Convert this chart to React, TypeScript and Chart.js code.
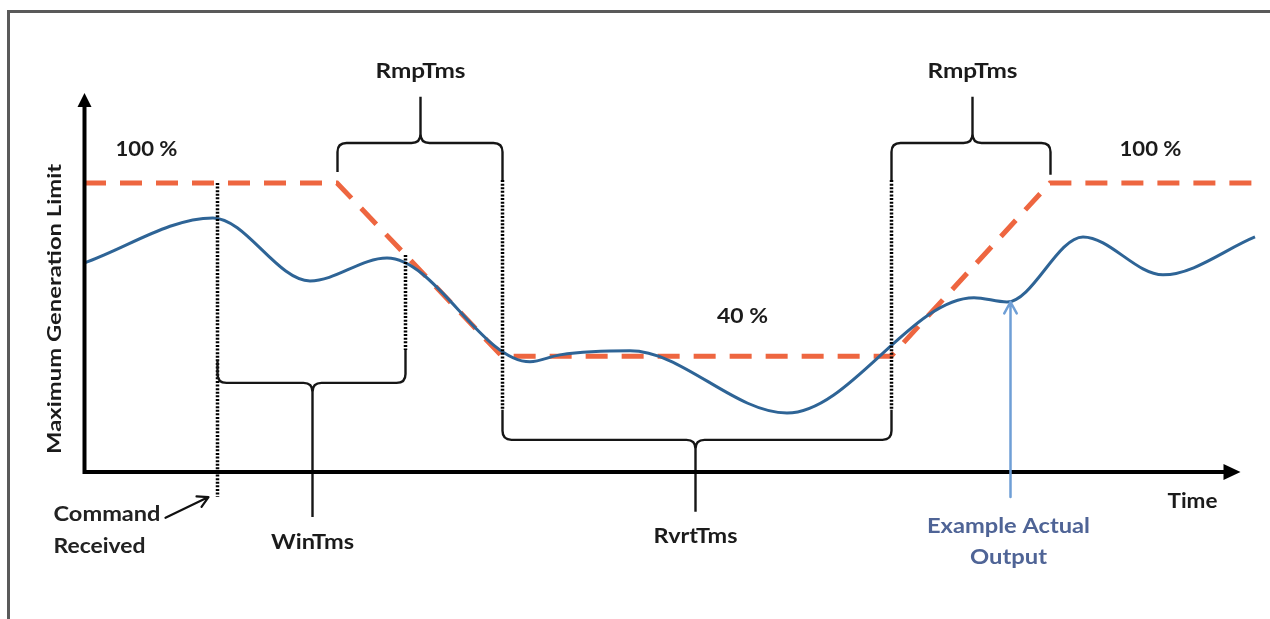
import React, { useEffect, useRef } from "react";
import { Chart, registerables } from "chart.js";

Chart.register(...registerables);

// ---- Data (time units along x, percent of limit along y) ----
const outputT = [0, 12.9, 22.6, 30.3, 44.6, 47.6, 54.6, 70.3, 89.0, 92.3, 99.9, 107.9, 117.1];
const outputV = [72.3, 87.9, 66.1, 74.0, 38.1, 40.5, 41.9, 20.4, 60.3, 58.8, 81.3, 68.2, 81.3];

const limitT = [0, 25.3, 41.8, 80.7, 96.6, 117.1];
const limitV = [100, 100, 40, 40, 100, 100];

// brackets
const bracketLabels = ["RmpTms", "RmpTms", "WinTms", "RvrtTms"];
const bracketStart = [25.3, 80.7, 13.3, 41.8];
const bracketEnd = [41.8, 96.6, 32.1, 80.7];
const bracketMid = [33.6, 88.8, 22.8, 61.1];
const bracketLevel = [113.8, 113.8, 30.8, 11.1];
const bracketTip = [129.8, 129.8, -15.6, -13.8];
const bracketFootL = [103.8, 101.0, 38.8, 21.5];
const bracketFootR = [101.0, 102.8, 42.2, 21.5];
const bracketLabelV = [138.4, 138.4, -24.6, -22.5];
const bracketLabelW = [90, 90, 83, 84];

// dotted guides
const guideT = [13.3, 32.1, 41.8, 80.7];
const guideTop = [100, 75.1, 101, 101];
const guideBottom = [-8.7, 42.2, 21.5, 21.5];

// level labels
const levelLabels = ["100 %", "40 %", "100 %"];
const levelLabelT = [6.2, 65.8, 106.6];
const levelLabelV = [111.4, 53.6, 111.4];
const levelLabelW = [62, 51, 62];

// axes extent
const axisTopV = 131.1;
const axisEndT = 115.6;

// annotations
const commandLines = ["Command", "Received"];
const commandLineV = [-14.9, -26.0];
const commandLineW = [107, 92];
const commandLeftT = -3.1;
const commandArrowFrom = [8.1, -15.9];
const commandArrowTo = [12.4, -8.7];

const exampleLines = ["Example Actual", "Output"];
const exampleLineV = [-19.0, -29.8];
const exampleLineW = [163, 77];
const exampleT = 92.4;
const exampleArrowT = 92.6;
const exampleArrowFromV = -8.7;
const exampleArrowToV = 58.8;

const timeLabelT = 110.8;
const timeLabelV = -10.4;
const yLabel = "Maximum Generation Limit";
const yLabelT = -3.0;
const yLabelV = 56.4;

const FONT = "Lato, 'Open Sans', sans-serif";
const INK = "#1b1b1b";

function fitText(
  ctx: CanvasRenderingContext2D,
  text: string,
  x: number,
  y: number,
  width: number,
  size: number,
  color: string,
  align: "center" | "left" = "center",
  rotate = 0
) {
  ctx.save();
  ctx.font = `bold ${size}px ${FONT}`;
  const w = ctx.measureText(text).width;
  const sx = width / w;
  ctx.translate(x, y);
  if (rotate) ctx.rotate(rotate);
  ctx.scale(sx, 1);
  ctx.fillStyle = color;
  ctx.textAlign = align;
  ctx.textBaseline = "middle";
  ctx.fillText(text, 0, 0);
  ctx.restore();
}

function openArrow(
  ctx: CanvasRenderingContext2D,
  x1: number,
  y1: number,
  x2: number,
  y2: number,
  len: number
) {
  const a = Math.atan2(y2 - y1, x2 - x1);
  ctx.beginPath();
  ctx.moveTo(x1, y1);
  ctx.lineTo(x2, y2);
  ctx.moveTo(x2 - len * Math.cos(a - 0.5), y2 - len * Math.sin(a - 0.5));
  ctx.lineTo(x2, y2);
  ctx.lineTo(x2 - len * Math.cos(a + 0.5), y2 - len * Math.sin(a + 0.5));
  ctx.stroke();
}

const overlayPlugin = {
  id: "diagramOverlay",
  afterDatasetsDraw(chart: any) {
    const ctx: CanvasRenderingContext2D = chart.ctx;
    const xs = chart.scales.x;
    const ys = chart.scales.y;
    const px = (t: number) => Math.round(xs.getPixelForValue(t)) + 0.5;
    const py = (v: number) => ys.getPixelForValue(v);

    ctx.save();
    // dotted guides
    ctx.strokeStyle = "#000";
    ctx.lineWidth = 3.5;
    ctx.setLineDash([2, 1.6]);
    guideT.forEach((t, i) => {
      ctx.beginPath();
      ctx.moveTo(px(t), py(guideTop[i]));
      ctx.lineTo(px(t), py(guideBottom[i]));
      ctx.stroke();
    });
    ctx.setLineDash([]);

    // brackets
    ctx.lineWidth = 2.4;
    ctx.strokeStyle = "#161616";
    ctx.lineJoin = "round";
    const r = 9;
    bracketLabels.forEach((label, i) => {
      const xL = px(bracketStart[i]);
      const xR = px(bracketEnd[i]);
      const xC = px(bracketMid[i]);
      const yH = py(bracketLevel[i]);
      const yT = py(bracketTip[i]);
      const s = yT < yH ? -1 : 1;
      ctx.beginPath();
      ctx.moveTo(xL, py(bracketFootL[i]));
      ctx.lineTo(xL, yH - s * r);
      ctx.quadraticCurveTo(xL, yH, xL + r, yH);
      ctx.lineTo(xC - r, yH);
      ctx.quadraticCurveTo(xC, yH, xC, yH + s * r);
      ctx.lineTo(xC, yT);
      ctx.moveTo(xC, yH + s * r);
      ctx.quadraticCurveTo(xC, yH, xC + r, yH);
      ctx.lineTo(xR - r, yH);
      ctx.quadraticCurveTo(xR, yH, xR, yH - s * r);
      ctx.lineTo(xR, py(bracketFootR[i]));
      ctx.stroke();
      fitText(ctx, label, xC, py(bracketLabelV[i]), bracketLabelW[i], 20, INK);
    });

    // axes with arrows
    const x0 = px(0);
    const y0 = py(0);
    const yTop = py(axisTopV);
    const xEnd = px(axisEndT);
    ctx.strokeStyle = "#000";
    ctx.fillStyle = "#000";
    ctx.lineWidth = 4;
    ctx.lineCap = "butt";
    ctx.beginPath();
    ctx.moveTo(x0, y0 + 2);
    ctx.lineTo(x0, yTop + 10);
    ctx.moveTo(x0 - 2, y0);
    ctx.lineTo(xEnd - 12, y0);
    ctx.stroke();
    ctx.beginPath();
    ctx.moveTo(x0, yTop);
    ctx.lineTo(x0 - 7, yTop + 14);
    ctx.lineTo(x0 + 7, yTop + 14);
    ctx.closePath();
    ctx.fill();
    ctx.beginPath();
    ctx.moveTo(xEnd, y0);
    ctx.lineTo(xEnd - 17, y0 - 8);
    ctx.lineTo(xEnd - 17, y0 + 8);
    ctx.closePath();
    ctx.fill();

    // level labels
    levelLabels.forEach((lab, i) => {
      fitText(ctx, lab, px(levelLabelT[i]), py(levelLabelV[i]), levelLabelW[i], 20, INK);
    });

    // axis titles
    fitText(ctx, "Time", px(timeLabelT), py(timeLabelV), 50, 20, INK);
    fitText(ctx, yLabel, px(yLabelT), py(yLabelV), 290, 19, INK, "center", -Math.PI / 2);

    // command received
    commandLines.forEach((l, i) => {
      fitText(ctx, l, px(commandLeftT), py(commandLineV[i]), commandLineW[i], 20, "#222", "left");
    });
    ctx.strokeStyle = "#111";
    ctx.lineWidth = 2.2;
    ctx.lineCap = "round";
    openArrow(
      ctx,
      px(commandArrowFrom[0]),
      py(commandArrowFrom[1]),
      px(commandArrowTo[0]),
      py(commandArrowTo[1]),
      12
    );

    // example actual output
    ctx.strokeStyle = "#6F9FD6";
    ctx.lineWidth = 2.5;
    openArrow(
      ctx,
      px(exampleArrowT),
      py(exampleArrowFromV),
      px(exampleArrowT),
      py(exampleArrowToV),
      13
    );
    exampleLines.forEach((l, i) => {
      fitText(ctx, l, px(exampleT), py(exampleLineV[i]), exampleLineW[i], 20, "#4F6496");
    });
    ctx.restore();
  },
};

export default function App() {
  const canvasRef = useRef<HTMLCanvasElement | null>(null);

  useEffect(() => {
    const canvas = canvasRef.current;
    if (!canvas) return;
    const chart = new Chart(canvas, {
      type: "line",
      data: {
        datasets: [
          {
            label: "Example Actual Output",
            data: outputT.map((t, i) => ({ x: t, y: outputV[i] })),
            borderColor: "#2E6496",
            borderWidth: 3,
            pointRadius: 0,
            cubicInterpolationMode: "monotone",
            fill: false,
          },
          {
            label: "Maximum Generation Limit",
            data: limitT.map((t, i) => ({ x: t, y: limitV[i] })),
            borderColor: "#EE6640",
            borderWidth: 5,
            borderDash: [22, 14],
            pointRadius: 0,
            tension: 0,
            fill: false,
          },
        ],
      },
      options: {
        responsive: false,
        animation: false,
        layout: { padding: 0 },
        scales: {
          x: { type: "linear", min: -8.4, max: 118.6, display: false },
          y: { type: "linear", min: -50.9, max: 163.3, display: false },
        },
        plugins: {
          legend: { display: false },
          tooltip: { enabled: false },
        },
      },
      plugins: [overlayPlugin],
    });
    return () => chart.destroy();
  }, []);

  return (
    <div style={{ position: "absolute", left: 0, top: 0, width: 1270, height: 619, background: "#fff" }}>
      <canvas ref={canvasRef} width={1270} height={619} style={{ display: "block" }} />
      <div
        style={{
          position: "absolute",
          left: 7,
          top: 10,
          width: 1263,
          height: 609,
          borderTop: "3px solid #5a5a5a",
          borderLeft: "3px solid #5a5a5a",
          boxSizing: "border-box",
          pointerEvents: "none",
        }}
      />
    </div>
  );
}
